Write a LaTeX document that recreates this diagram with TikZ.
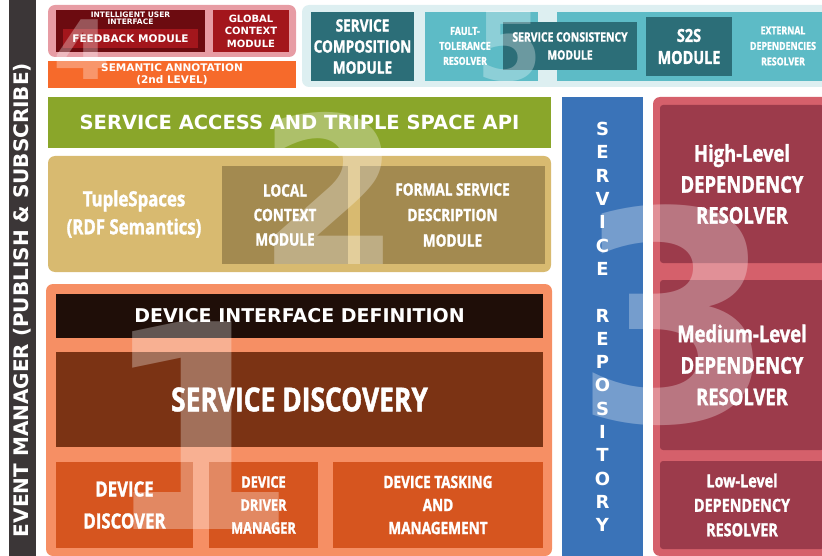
\documentclass[tikz,border=0pt]{standalone}
\usepackage{fontspec}
\setmainfont{DejaVu Sans}
\newfontfamily\condfont[FakeStretch=0.8, BoldFeatures={FakeBold=1.4}]{Open Sans}

\definecolor{evgray}{HTML}{3B3637}
\definecolor{uipink}{HTML}{E79CA4}
\definecolor{uidark}{HTML}{6C0B10}
\definecolor{uired}{HTML}{A3161C}
\definecolor{semorange}{HTML}{F66A2B}
\definecolor{tealbg}{HTML}{DDEFF1}
\definecolor{tealdark}{HTML}{2C6E78}
\definecolor{teallight}{HTML}{5DBBC6}
\definecolor{apigreen}{HTML}{8AA62A}
\definecolor{tupletan}{HTML}{D8BA70}
\definecolor{tuplein}{HTML}{A38A50}
\definecolor{devouter}{HTML}{F68F64}
\definecolor{devblack}{HTML}{1F0E08}
\definecolor{devbrown}{HTML}{7B3314}
\definecolor{devorange}{HTML}{D6551F}
\definecolor{repoblue}{HTML}{3A73B8}
\definecolor{depouter}{HTML}{D5606B}
\definecolor{depinner}{HTML}{9C3B4B}

\tikzset{
  box/.style={inner sep=0pt, align=center, text=white},
  wide/.style={font={\bfseries\fontsize{#1}{#1}\selectfont}},
  cond/.style 2 args={font={\condfont\bfseries\fontsize{#1}{#2}\selectfont}},
  bignum/.style={inner sep=0pt, text=white, text opacity=0.3,
    font={\bfseries\fontsize{#1}{#1}\selectfont}}
}

\begin{document}
\begin{tikzpicture}[x=1pt,y=-1pt]
\useasboundingbox (0,0) rectangle (822,556);
\clip (0,0) rectangle (822,556);

% --- event manager bar on the left
\node[box, fill=evgray, minimum width=27, minimum height=556] (evbar) at (22.5,278) {};
\node[box, wide=20, rotate=90] (evtext) at (22.5,300) {EVENT MANAGER (PUBLISH \& SUBSCRIBE)};

% ---- layer 4: user interface
\node[box, fill=uipink, rounded corners=7pt, minimum width=248, minimum height=52] (ui) at (172,31) {};
\node[box, fill=uidark, minimum width=149, minimum height=42] (iui) at (130.5,31) {};
\node[box, font={\bfseries\fontsize{7.5}{7.5}\selectfont}] (iuitext) at (130.5,18.5) {INTELLIGENT USER\\INTERFACE};
\node[box, fill=uired, wide=10.5, minimum width=135, minimum height=19] (feedback) at (130.5,38.5) {FEEDBACK MODULE};
\node[box, fill=uired, minimum width=76, minimum height=42,
      font={\bfseries\fontsize{10}{12.5}\selectfont}] (globalctx) at (251,31) {GLOBAL\\CONTEXT\\MODULE};
\node[box, fill=semorange, minimum width=248, minimum height=27,
      font={\bfseries\fontsize{10.5}{12}\selectfont}] (semantic) at (172,74.5) {SEMANTIC ANNOTATION\\(2nd LEVEL)};

% ---- layer 5: service composition
\node[box, fill=tealbg, rounded corners=7pt, minimum width=540, minimum height=82] (comp) at (572,46) {};
\node[box, fill=tealdark, cond={17}{21}, minimum width=103, minimum height=69] (scm) at (362.5,46.5) {SERVICE\\COMPOSITION\\MODULE};
\node[box, fill=teallight, minimum width=113, minimum height=69] (fault) at (481.5,46.5) {};
\node[box, cond={11}{15}] (faulttext) at (465,46) {FAULT-\\TOLERANCE\\RESOLVER};
\node[box, fill=teallight, minimum width=273, minimum height=69] (extbox) at (693.5,46.5) {};
\node[box, fill=tealdark, cond={13}{18}, minimum width=134, minimum height=48] (consist) at (570,46) {SERVICE CONSISTENCY\\MODULE};
\node[box, fill=tealdark, cond={18}{22}, minimum width=86, minimum height=59] (s2s) at (689,46.5) {S2S\\MODULE};
\node[box, cond={11}{15.5}] (exttext) at (783,46) {EXTERNAL\\DEPENDENCIES\\RESOLVER};

% ---- layer 2: service access and tuplespaces
\node[box, fill=apigreen, wide=19.5, minimum width=503, minimum height=51] (api) at (299.5,122.5) {SERVICE ACCESS AND TRIPLE SPACE API};
\node[box, fill=tupletan, rounded corners=7pt, minimum width=503, minimum height=116] (tuple) at (299.5,214) {};
\node[box, cond={21}{28}] (tupletext) at (134,214) {TupleSpaces\\(RDF Semantics)};
\node[box, fill=tuplein, cond={17}{24.5}, minimum width=126, minimum height=98] (localctx) at (285,215) {LOCAL\\CONTEXT\\MODULE};
\node[box, fill=tuplein, cond={17}{25.5}, minimum width=185, minimum height=98] (formal) at (452.5,215) {FORMAL SERVICE\\DESCRIPTION\\MODULE};

% ---- layer 1: devices
\node[box, fill=devouter, rounded corners=7pt, minimum width=506, minimum height=272] (dev) at (299,420) {};
\node[box, fill=devblack, wide=19, minimum width=487, minimum height=44] (devif) at (299.5,316) {DEVICE INTERFACE DEFINITION};
\node[box, fill=devbrown, cond={33}{33}, minimum width=487, minimum height=95] (sdisc) at (299.5,399.5) {SERVICE DISCOVERY};
\node[box, fill=devorange, cond={21}{32}, minimum width=137, minimum height=86] (ddisc) at (124.5,505) {DEVICE\\DISCOVER};
\node[box, fill=devorange, cond={16}{23}, minimum width=109, minimum height=86] (ddrv) at (263.5,505) {DEVICE\\DRIVER\\MANAGER};
\node[box, fill=devorange, cond={17}{23}, minimum width=210, minimum height=86] (dtask) at (438,505) {DEVICE TASKING\\AND\\MANAGEMENT};

% ---- service repository
\node[box, fill=repoblue, minimum width=81, minimum height=459] (repo) at (602.5,326.5) {};
\node[box, font={\bfseries\fontsize{18}{23.3}\selectfont}] (repotext) at (602.5,327)
  {S\\E\\R\\V\\I\\C\\E\\[23.3pt]R\\E\\P\\O\\S\\I\\T\\O\\R\\Y};

% ---- layer 3: dependency resolvers
\node[box, fill=depouter, rounded corners=7pt, minimum width=177, minimum height=459] (dep) at (741.5,326.5) {};
\node[box, fill=depinner, rounded corners=3pt, cond={23}{31}, minimum width=164, minimum height=158] (highdep) at (742,184) {High-Level\\DEPENDENCY\\RESOLVER};
\node[box, fill=depinner, rounded corners=3pt, cond={23}{31.5}, minimum width=164, minimum height=170] (meddep) at (742,365) {Medium-Level\\DEPENDENCY\\RESOLVER};
\node[box, fill=depinner, rounded corners=3pt, cond={18}{24.5}, minimum width=164, minimum height=88] (lowdep) at (742,505) {Low-Level\\DEPENDENCY\\RESOLVER};

% ---- big layer numbers on top
\node[bignum=285] (num1) at (200,426) {1};
\node[bignum=205] (num2) at (330,188) {2};
\node[bignum=292] (num3) at (675,315) {3};
\node[bignum=82] (num4) at (82,50) {4};
\node[bignum=95] (num5) at (510,47) {5};
\end{tikzpicture}
\end{document}
